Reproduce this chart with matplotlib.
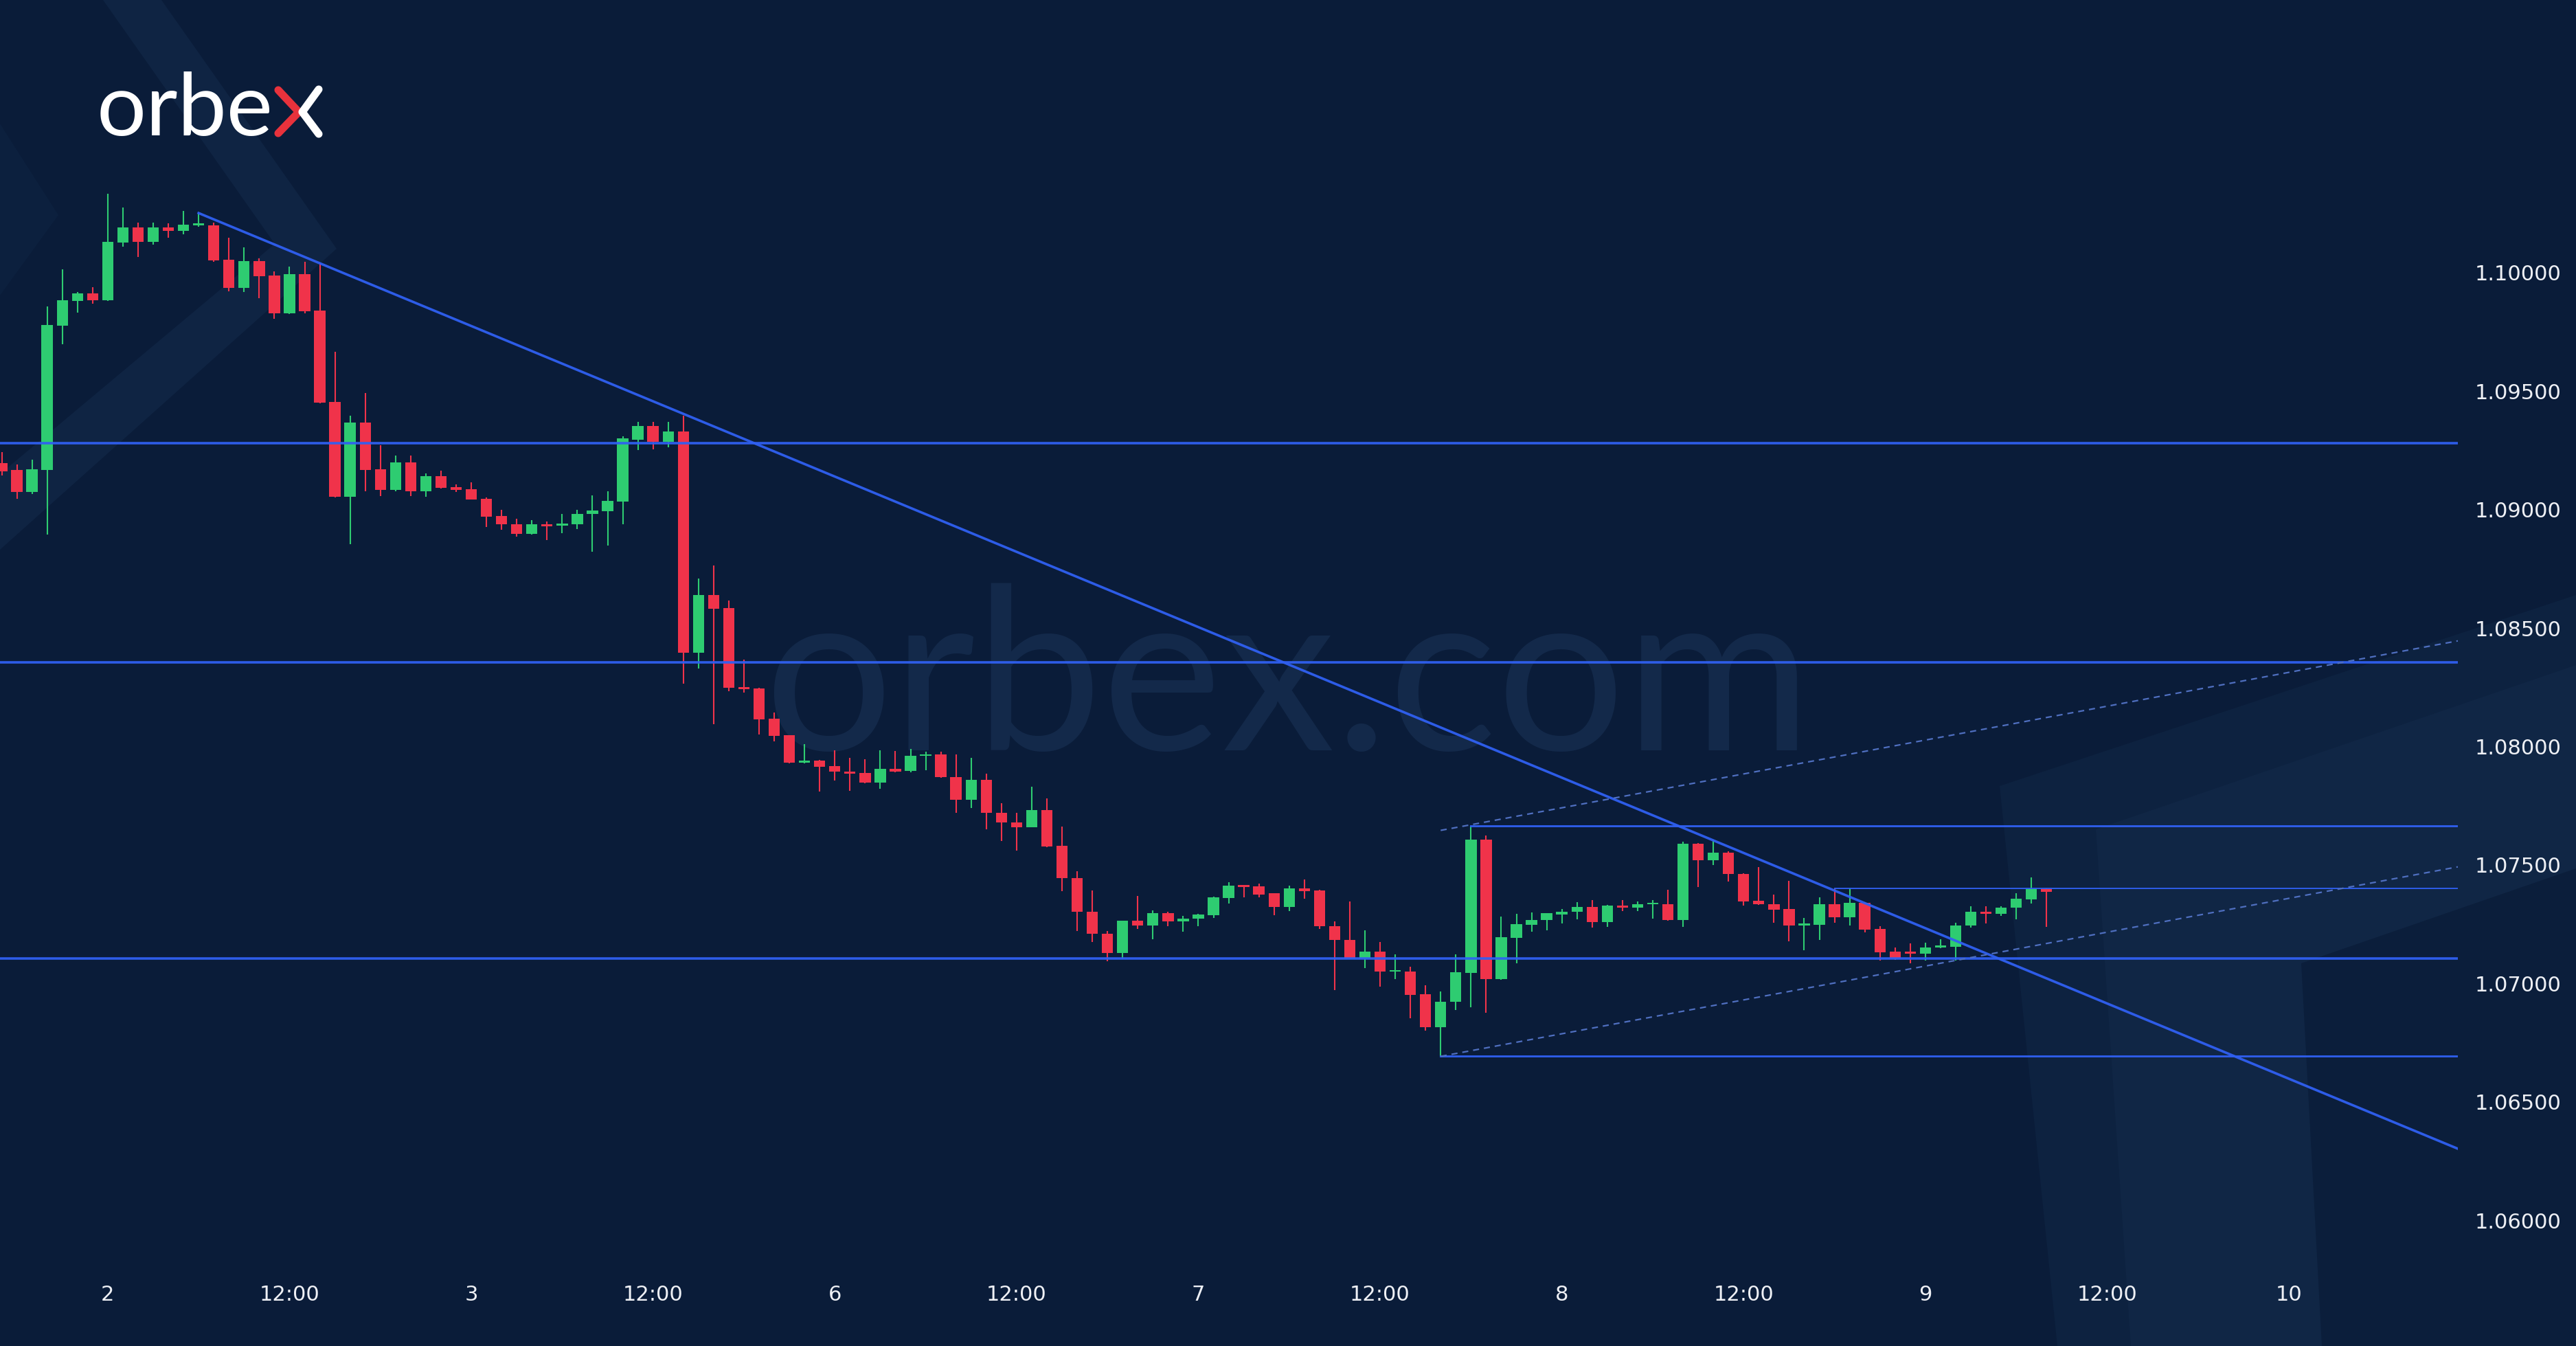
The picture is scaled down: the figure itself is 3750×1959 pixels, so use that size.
import matplotlib
matplotlib.use("Agg")
import matplotlib.pyplot as plt
from matplotlib.patches import Polygon
import numpy as np

# ---------------- data (hourly candles) ----------------
opens = [1.09196, 1.09167, 1.09074, 1.09167, 1.09776, 1.09880, 1.09913, 1.09883, 1.10128, 1.10192,
         1.10130, 1.10192, 1.10177, 1.10200, 1.10201, 1.10056, 1.09936, 1.10050, 1.09988, 1.09828,
         1.09993, 1.09841, 1.09455, 1.09053, 1.09367, 1.09170, 1.09082, 1.09198, 1.09079, 1.09141,
         1.09095, 1.09085, 1.09046, 1.08973, 1.08939, 1.08897, 1.08936, 1.08932, 1.08937, 1.08981,
         1.08994, 1.09034, 1.09296, 1.09353, 1.09287, 1.09330, 1.08395, 1.08641, 1.08584, 1.08251,
         1.08245, 1.08117, 1.08047, 1.07932, 1.07940, 1.07918, 1.07895, 1.07887, 1.07849, 1.07907,
         1.07898, 1.07960, 1.07968, 1.07870, 1.07775, 1.07858, 1.07720, 1.07680, 1.07660, 1.07731,
         1.07580, 1.07445, 1.07303, 1.07210, 1.07127, 1.07265, 1.07244, 1.07296, 1.07262, 1.07272,
         1.07288, 1.07360, 1.07412, 1.07410, 1.07381, 1.07324, 1.07402, 1.07393, 1.07241, 1.07184,
         1.07106, 1.07134, 1.07049, 1.07051, 1.06953, 1.06816, 1.06922, 1.07044, 1.07607, 1.07018,
         1.07192, 1.07248, 1.07267, 1.07292, 1.07301, 1.07323, 1.07260, 1.07328, 1.07320, 1.07333,
         1.07335, 1.07268, 1.07589, 1.07519, 1.07553, 1.07463, 1.07348, 1.07335, 1.07313, 1.07245,
         1.07247, 1.07334, 1.07279, 1.07339, 1.07229, 1.07134, 1.07131, 1.07125, 1.07151, 1.07155,
         1.07245, 1.07303, 1.07294, 1.07321, 1.07355, 1.07398]
highs = [1.09242, 1.09191, 1.09211, 1.09859, 1.10014, 1.09919, 1.09939, 1.10335, 1.10275, 1.10213,
         1.10213, 1.10208, 1.10260, 1.10252, 1.10213, 1.10149, 1.10107, 1.10061, 1.10006, 1.10027,
         1.10045, 1.10040, 1.09667, 1.09398, 1.09491, 1.09273, 1.09229, 1.09227, 1.09154, 1.09165,
         1.09108, 1.09115, 1.09051, 1.08999, 1.08963, 1.08956, 1.08950, 1.08983, 1.09000, 1.09059,
         1.09078, 1.09311, 1.09372, 1.09372, 1.09372, 1.09396, 1.08708, 1.08764, 1.08615, 1.08367,
         1.08248, 1.08145, 1.08047, 1.08009, 1.07942, 1.07984, 1.07951, 1.07945, 1.07984, 1.07981,
         1.07990, 1.07979, 1.07979, 1.07968, 1.07952, 1.07886, 1.07760, 1.07720, 1.07831, 1.07780,
         1.07663, 1.07474, 1.07393, 1.07220, 1.07265, 1.07370, 1.07308, 1.07303, 1.07285, 1.07293,
         1.07365, 1.07427, 1.07414, 1.07422, 1.07381, 1.07414, 1.07438, 1.07396, 1.07262, 1.07345,
         1.07225, 1.07176, 1.07122, 1.07070, 1.06992, 1.06966, 1.07122, 1.07666, 1.07624, 1.07282,
         1.07293, 1.07300, 1.07296, 1.07315, 1.07342, 1.07352, 1.07332, 1.07352, 1.07345, 1.07352,
         1.07395, 1.07598, 1.07592, 1.07608, 1.07557, 1.07466, 1.07492, 1.07376, 1.07434, 1.07276,
         1.07363, 1.07400, 1.07400, 1.07342, 1.07241, 1.07151, 1.07170, 1.07173, 1.07187, 1.07257,
         1.07325, 1.07325, 1.07325, 1.07381, 1.07448, 1.07402]
lows = [1.09144, 1.09046, 1.09066, 1.08895, 1.09698, 1.09833, 1.09869, 1.09880, 1.10109, 1.10066,
        1.10120, 1.10149, 1.10161, 1.10195, 1.10045, 1.09921, 1.09919, 1.09892, 1.09807, 1.09826,
        1.09830, 1.09450, 1.09051, 1.08854, 1.09077, 1.09056, 1.09077, 1.09056, 1.09054, 1.09089,
        1.09074, 1.09044, 1.08926, 1.08914, 1.08885, 1.08895, 1.08872, 1.08900, 1.08919, 1.08821,
        1.08848, 1.08937, 1.09252, 1.09255, 1.09263, 1.08264, 1.08328, 1.08095, 1.08234, 1.08228,
        1.08051, 1.08023, 1.07929, 1.07929, 1.07809, 1.07857, 1.07812, 1.07845, 1.07823, 1.07890,
        1.07890, 1.07901, 1.07868, 1.07720, 1.07740, 1.07650, 1.07600, 1.07560, 1.07660, 1.07576,
        1.07389, 1.07220, 1.07176, 1.07093, 1.07103, 1.07231, 1.07186, 1.07241, 1.07217, 1.07241,
        1.07277, 1.07337, 1.07362, 1.07362, 1.07288, 1.07306, 1.07358, 1.07231, 1.06972, 1.07106,
        1.07065, 1.06985, 1.07018, 1.06852, 1.06801, 1.06692, 1.06889, 1.06899, 1.06875, 1.07016,
        1.07086, 1.07217, 1.07225, 1.07253, 1.07270, 1.07236, 1.07239, 1.07306, 1.07306, 1.07272,
        1.07265, 1.07238, 1.07408, 1.07500, 1.07429, 1.07328, 1.07330, 1.07257, 1.07178, 1.07139,
        1.07183, 1.07257, 1.07243, 1.07214, 1.07096, 1.07100, 1.07086, 1.07096, 1.07149, 1.07096,
        1.07236, 1.07253, 1.07286, 1.07270, 1.07337, 1.07238]
closes = [1.09162, 1.09074, 1.09170, 1.09779, 1.09883, 1.09913, 1.09883, 1.10130, 1.10192, 1.10130,
          1.10192, 1.10177, 1.10203, 1.10202, 1.10052, 1.09936, 1.10050, 1.09985, 1.09828, 1.09993,
          1.09838, 1.09452, 1.09053, 1.09367, 1.09167, 1.09082, 1.09198, 1.09077, 1.09141, 1.09092,
          1.09082, 1.09044, 1.08971, 1.08937, 1.08897, 1.08939, 1.08931, 1.08939, 1.08983, 1.08997,
          1.09037, 1.09300, 1.09353, 1.09287, 1.09330, 1.08395, 1.08641, 1.08581, 1.08248, 1.08243,
          1.08115, 1.08045, 1.07932, 1.07940, 1.07914, 1.07893, 1.07884, 1.07849, 1.07907, 1.07895,
          1.07962, 1.07966, 1.07870, 1.07775, 1.07858, 1.07720, 1.07680, 1.07660, 1.07733, 1.07578,
          1.07445, 1.07303, 1.07210, 1.07127, 1.07265, 1.07244, 1.07296, 1.07262, 1.07272, 1.07290,
          1.07362, 1.07412, 1.07407, 1.07376, 1.07322, 1.07402, 1.07389, 1.07241, 1.07184, 1.07106,
          1.07134, 1.07049, 1.07052, 1.06951, 1.06816, 1.06922, 1.07047, 1.07607, 1.07018, 1.07194,
          1.07251, 1.07269, 1.07296, 1.07303, 1.07323, 1.07260, 1.07328, 1.07320, 1.07334, 1.07337,
          1.07268, 1.07589, 1.07519, 1.07553, 1.07461, 1.07345, 1.07334, 1.07311, 1.07243, 1.07250,
          1.07334, 1.07279, 1.07339, 1.07226, 1.07131, 1.07105, 1.07125, 1.07152, 1.07158, 1.07245,
          1.07303, 1.07294, 1.07321, 1.07357, 1.07398, 1.07386]

x_tick_pos = [7, 19, 31, 43, 55, 67, 79, 91, 103, 115, 127, 139, 151]
x_tick_labels = ["2", "12:00", "3", "12:00", "6", "12:00", "7", "12:00", "8", "12:00", "9", "12:00", "10"]
y_ticks = [1.06000, 1.06500, 1.07000, 1.07500, 1.08000, 1.08500, 1.09000, 1.09500, 1.10000]

# drawn levels
full_levels = [1.09280, 1.08355, 1.07104]
box_top, box_top_start = 1.07666, 97
box_bottom, box_bottom_start = 1.06692, 95
mid_level, mid_level_start = 1.07400, 121
trend_start = (13, 1.10252)
trend_end_price = 1.06302
channel_start = (95, 1.06692)
channel_end_price = 1.07492
channel_offset = 0.00954

# ---------------- style ----------------
BG = "#0a1c39"
GREEN = "#2ecc71"
RED = "#f0334a"
LINE = "#3060f2"
DASH = "#4f6fc0"
TXT = "#eef0f5"

W, H = 3750, 1959
fig = plt.figure(figsize=(W / 100, H / 100), dpi=100, facecolor=BG)

# background / decoration axes in pixel coordinates
bg = fig.add_axes([0, 0, 1, 1])
bg.set_xlim(0, W)
bg.set_ylim(H, 0)
bg.axis("off")
bg.set_facecolor(BG)

deco_polys = [
    ([(150, 0), (235, 0), (490, 362), (0, 800), (0, 690), (400, 355)], "#0f2443"),
    ([(0, 180), (85, 313), (0, 430)], "#0c203e"),
    ([(2911, 1144), (3750, 866), (3750, 1959), (2995, 1959)], "#0d2240"),
    ([(3051, 1207), (3750, 968), (3750, 1959), (3102, 1959)], "#102645"),
    ([(3350, 1402), (3750, 1264), (3750, 1959), (3380, 1959)], "#0b1e3b"),
]
for p, col in deco_polys:
    bg.add_patch(Polygon(p, closed=True, facecolor=col, edgecolor="none", zorder=0))

# watermark
wm = bg.text(1112, 1092, "orbex.com", color="#13294a", family="Lato",
             fontsize=200, ha="left", va="baseline", zorder=1)
# logo
logo = bg.text(141, 197, "orbe", color="white", family="Lato",
               fontsize=90, ha="left", va="baseline", zorder=5)
fig.canvas.draw()
r = fig.canvas.get_renderer()
for t, target in ((wm, 2637 - 1112), (logo, 398 - 141)):
    w = t.get_window_extent(r).width
    t.set_fontsize(t.get_fontsize() * target / w)
bg.plot([405, 435, 405], [131, 163, 194], color="#e8323c", lw=8,
        solid_capstyle="round", solid_joinstyle="round", zorder=5)
bg.plot([464, 440, 464], [130, 163, 195], color="white", lw=8,
        solid_capstyle="round", solid_joinstyle="round", zorder=5)

# ---------------- main chart axes ----------------
ax = fig.add_axes([0, (H - 1830) / H, 3578 / W, 1830 / H])
ax.set_zorder(2)
ax.set_facecolor("none")
x_left = -2.5 / 22.05
x_right = (3578 - 2.5) / 22.05
ax.set_xlim(x_left, x_right)
ax.set_ylim(1.10 - 1433 / 34475, 1.10 + 397 / 34475)
for s in ax.spines.values():
    s.set_visible(False)

o = np.array(opens); h = np.array(highs); l = np.array(lows); c = np.array(closes)
x = np.arange(len(o))
up = c >= o
cols = np.where(up, GREEN, RED)
ax.vlines(x, l, h, colors=cols, lw=1.5, zorder=3)
body_bottom = np.minimum(o, c)
body_h = np.maximum(np.abs(c - o), 0.00008)
ax.bar(x, body_h, bottom=body_bottom, width=0.74, color=cols, edgecolor="none", zorder=4)

# horizontal levels
for lv in full_levels:
    ax.plot([x_left, x_right], [lv, lv], color=LINE, lw=2.6, alpha=0.95, zorder=5)
ax.plot([box_top_start, x_right], [box_top, box_top], color=LINE, lw=2.1, alpha=0.95, zorder=5)
ax.plot([box_bottom_start, x_right], [box_bottom, box_bottom], color=LINE, lw=2.1, alpha=0.95, zorder=5)
ax.plot([mid_level_start, x_right], [mid_level, mid_level], color=LINE, lw=1.4, alpha=0.95, zorder=5)

# trend line
ax.plot([trend_start[0], x_right], [trend_start[1], trend_end_price], color=LINE, lw=2.6,
        alpha=0.95, zorder=5)

# dashed parallel channel
for off in (0.0, channel_offset):
    ax.plot([channel_start[0], x_right], [channel_start[1] + off, channel_end_price + off],
            color=DASH, lw=1.6, ls=(0, (4, 3.2)), zorder=5)

ax.yaxis.tick_right()
ax.set_yticks(y_ticks)
ax.set_yticklabels([f"{v:.5f}" for v in y_ticks])
ax.set_xticks(x_tick_pos)
ax.set_xticklabels(x_tick_labels)
ax.tick_params(axis="y", length=0, pad=18, labelsize=22, labelcolor=TXT)
ax.tick_params(axis="x", length=0, pad=29, labelsize=22, labelcolor=TXT)

fig.savefig("out.png", dpi=100, facecolor=BG)
